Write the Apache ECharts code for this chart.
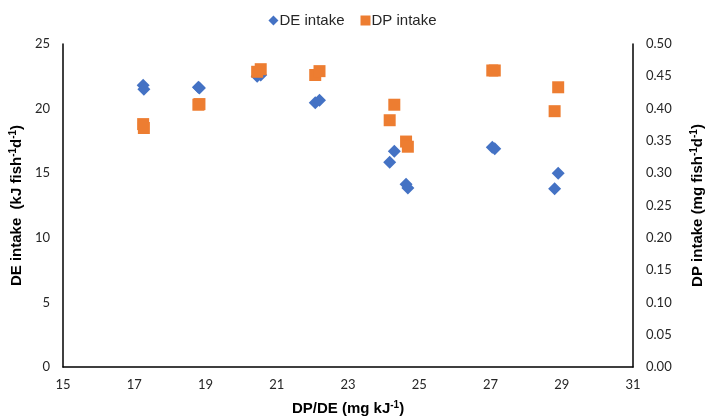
<!DOCTYPE html>
<html>
<head>
<meta charset="utf-8">
<script src="https://cdn.jsdelivr.net/npm/echarts@6/dist/echarts.min.js"></script>
<style>html,body{margin:0;padding:0;background:#fff}#c{width:705px;height:418px}</style>
</head>
<body>
<div id="c"></div>
<script>
// DP/DE ratio (mg kJ-1) per observation
var dpde = [17.25, 17.27, 18.80, 18.83, 20.45, 20.55, 22.08, 22.20, 24.17, 24.30, 24.63, 24.68, 27.05, 27.12, 28.80, 28.90];
// DE intake (kJ fish-1 d-1)
var deIntake = [21.8, 21.5, 21.65, 21.6, 22.5, 22.6, 20.45, 20.65, 15.85, 16.7, 14.15, 13.85, 17.0, 16.9, 13.8, 15.0];
// DP intake (mg fish-1 d-1)
var dpIntake = [0.376, 0.370, 0.406, 0.407, 0.457, 0.461, 0.452, 0.458, 0.382, 0.406, 0.349, 0.341, 0.459, 0.459, 0.396, 0.433];
var xTicks = [15, 17, 19, 21, 23, 25, 27, 29, 31];
var leftTicks = [0, 5, 10, 15, 20, 25];
var rightTicks = [0, 0.05, 0.10, 0.15, 0.20, 0.25, 0.30, 0.35, 0.40, 0.45, 0.50];

function pairs(xs, ys) { return xs.map(function (x, i) { return [x, ys[i]]; }); }

var chart = echarts.init(document.getElementById('c'), null, { renderer: 'canvas' });
var tickFont = { fontFamily: 'Lato, "Open Sans", sans-serif', fontSize: 13, color: '#262626' };
var titleRich = {
  sup: { fontFamily: 'Liberation Sans, Arial, sans-serif', fontWeight: 'bold', fontSize: 10, color: '#000', padding: [0, 0, 7, 0] }
};
var titleStyle = { fontFamily: 'Liberation Sans, Arial, sans-serif', fontWeight: 'bold', fontSize: 15, color: '#000', rich: titleRich };

chart.setOption({
  animation: false,
  backgroundColor: '#fff',
  grid: { left: 63, right: 72, top: 44, bottom: 51, containLabel: false, outerBoundsMode: 'none' },
  legend: {
    top: 8, left: 'center',
    itemGap: 16, itemWidth: 10, itemHeight: 10,
    textStyle: { fontFamily: 'Liberation Sans, Arial, sans-serif', fontSize: 15, color: '#262626', padding: [0, 0, 0, -4] },
    data: [{ name: 'DE intake', icon: 'diamond' }, { name: 'DP intake', icon: 'rect' }]
  },
  xAxis: {
    type: 'value', min: xTicks[0], max: xTicks[xTicks.length - 1], interval: 2,
    axisLine: { show: true, onZero: false, lineStyle: { color: '#000', width: 1.5 } },
    axisTick: { show: false }, splitLine: { show: false },
    axisLabel: Object.assign({ margin: 11 }, tickFont),
    name: 'DP/DE (mg kJ{sup|-1})', nameLocation: 'middle', nameGap: 33,
    nameTextStyle: titleStyle
  },
  yAxis: [{
    type: 'value', min: leftTicks[0], max: leftTicks[leftTicks.length - 1], interval: 5,
    position: 'left',
    axisLine: { show: true, lineStyle: { color: '#000', width: 1.5 } },
    axisTick: { show: false }, splitLine: { show: false },
    axisLabel: Object.assign({ margin: 13 }, tickFont),
    name: 'DE intake  (kJ fish{sup|-1}d{sup|-1})', nameLocation: 'middle', nameGap: 38, nameRotate: 90,
    nameTextStyle: titleStyle
  }, {
    type: 'value', min: rightTicks[0], max: rightTicks[rightTicks.length - 1], interval: 0.05,
    position: 'right',
    axisLine: { show: true, lineStyle: { color: '#000', width: 1.5 } },
    axisTick: { show: false }, splitLine: { show: false },
    axisLabel: Object.assign({ margin: 13, formatter: function (v) { return v.toFixed(2); } }, tickFont),
    name: 'DP intake (mg fish{sup|-1}d{sup|-1})', nameLocation: 'middle', nameGap: 56, nameRotate: 90,
    nameTextStyle: titleStyle
  }],
  series: [{
    name: 'DE intake', type: 'scatter', yAxisIndex: 0,
    symbol: 'diamond', symbolSize: 13,
    itemStyle: { color: '#4472C4', opacity: 1 },
    data: pairs(dpde, deIntake)
  }, {
    name: 'DP intake', type: 'scatter', yAxisIndex: 1,
    symbol: 'rect', symbolSize: 12,
    itemStyle: { color: '#ED7D31', opacity: 1 },
    data: pairs(dpde, dpIntake)
  }]
});
</script>
</body>
</html>
